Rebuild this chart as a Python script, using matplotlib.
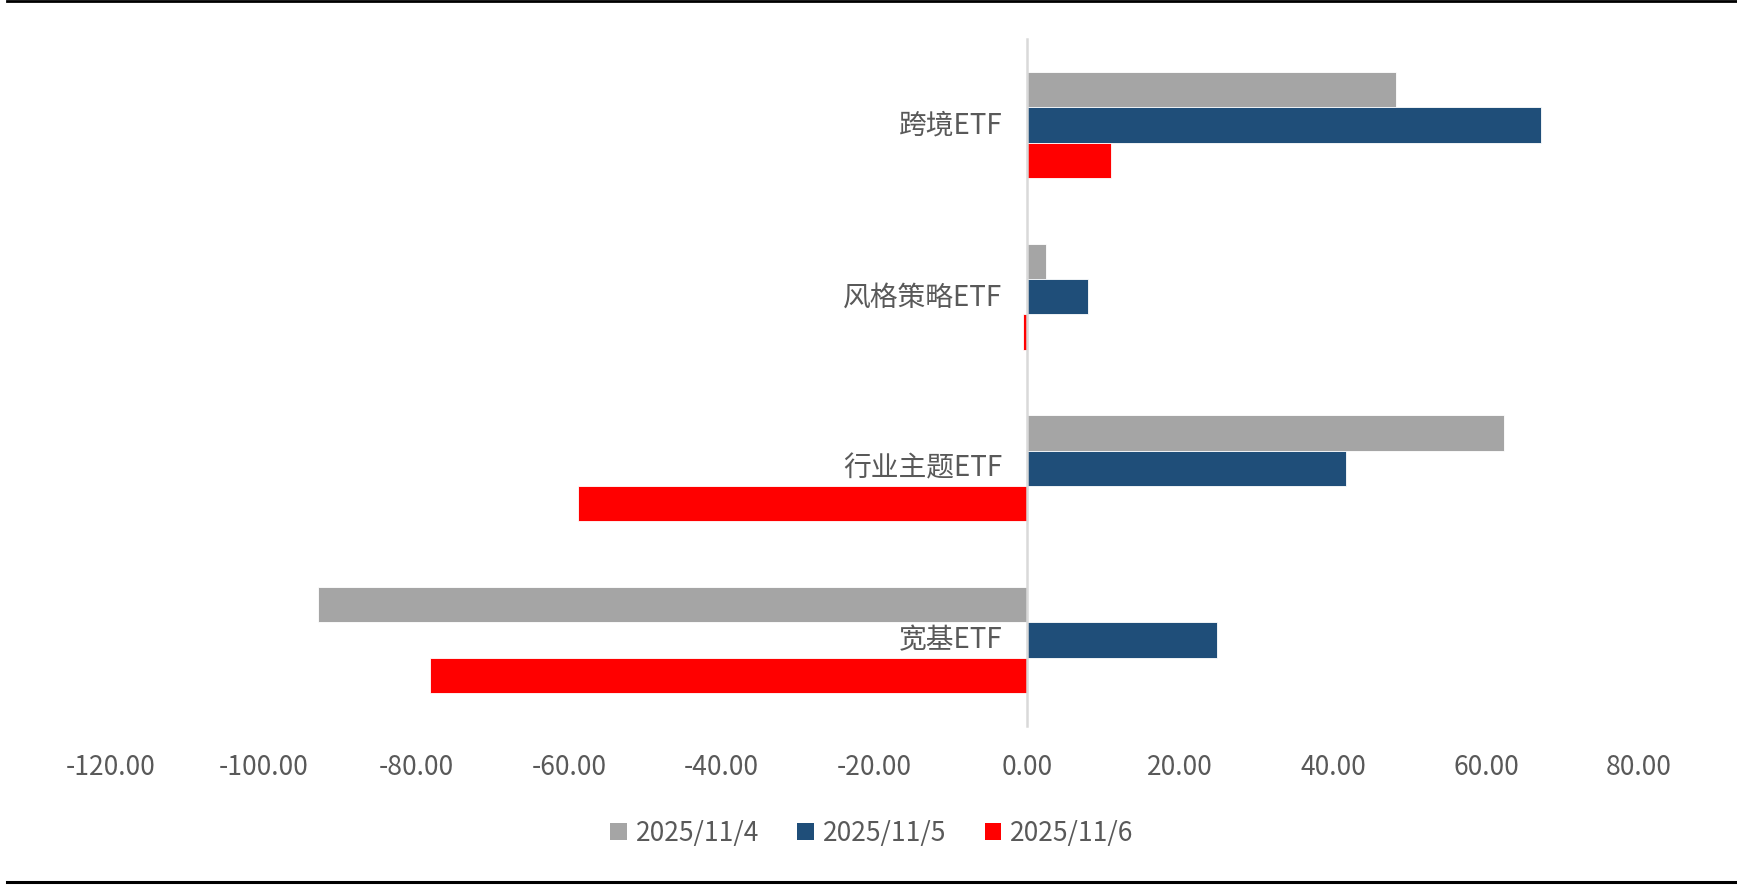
import matplotlib
matplotlib.use("Agg")
import matplotlib.pyplot as plt
from matplotlib.lines import Line2D
from matplotlib.patches import Patch
from matplotlib.transforms import ScaledTranslation
import numpy as np

plt.rcParams['font.family'] = ['Noto Sans CJK SC', 'DejaVu Sans']

categories = ["宽基ETF", "行业主题ETF", "风格策略ETF", "跨境ETF"]
series_names = ["2025/11/4", "2025/11/5", "2025/11/6"]
vals_1104 = [-92.8, 62.4, 2.4, 48.2]
vals_1105 = [24.8, 41.7, 7.9, 67.2]
vals_1106 = [-78.2, -58.8, -0.6, 10.9]
xticks = [-120, -100, -80, -60, -40, -20, 0, 20, 40, 60, 80]

colors = ["#A5A5A5", "#1F4E79", "#FF0000"]
text_color = "#595959"

fig = plt.figure(figsize=(17.37, 8.85), dpi=100)
ax = fig.add_axes([0.0635, 0.1797, 0.880, 0.776])

for s in ['top', 'right', 'bottom']:
    ax.spines[s].set_visible(False)
ax.spines['left'].set_position(('data', 0))
ax.spines['left'].set_color('#D9D9D9')
ax.spines['left'].set_linewidth(1.8)
ax.spines['left'].set_zorder(3)

y = np.arange(len(categories))
h = 0.206
offsets = [h, 0.0, -h]
for vals, off, col, name in zip([vals_1104, vals_1105, vals_1106], offsets, colors, series_names):
    ax.barh(y + off, vals, height=h, color=col, edgecolor='white', linewidth=0.6, label=name, zorder=2)

ax.set_xlim(-120, 80)
ax.set_ylim(-0.5, len(categories) - 0.5)
ax.set_xticks(xticks)
ax.set_xticklabels([f"{v:.2f}" for v in xticks], fontsize=19, color=text_color)
ax.set_yticks(y)
ax.set_yticklabels(categories, fontsize=20, color=text_color)
ax.tick_params(axis='x', length=0, pad=20)
ax.tick_params(axis='y', length=0, pad=18)
shift = ScaledTranslation(0, 3 / 100, fig.dpi_scale_trans)
for lbl in ax.get_yticklabels():
    lbl.set_transform(lbl.get_transform() + shift)

handles = [Patch(facecolor=c, edgecolor='none') for c in colors]
fig.legend(handles, series_names, loc='center', bbox_to_anchor=(0.502, 0.0585), ncol=3,
           frameon=False, fontsize=19, handlelength=0.62, handleheight=0.62,
           handletextpad=0.35, columnspacing=1.45, labelcolor=text_color)

fig.add_artist(Line2D([0.004, 1.0], [0.9985, 0.9985], transform=fig.transFigure, color='black', lw=2))
fig.add_artist(Line2D([0.004, 1.0], [0.0034, 0.0034], transform=fig.transFigure, color='black', lw=2.2))

fig.savefig("out.png", dpi=100, facecolor='white')
